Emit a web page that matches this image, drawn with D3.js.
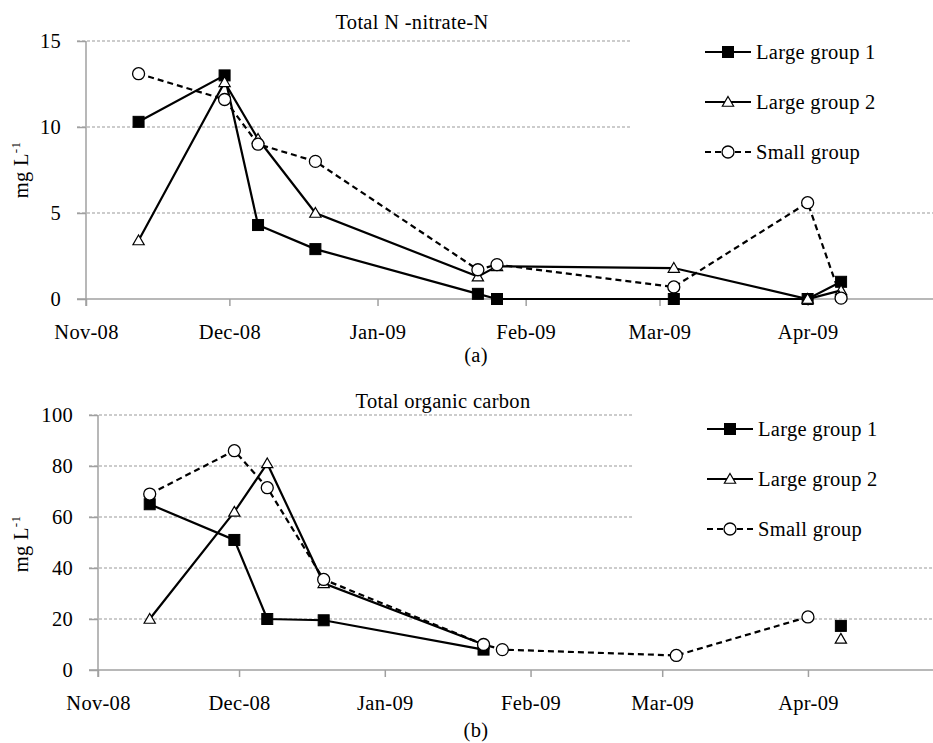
<!DOCTYPE html>
<html>
<head>
<meta charset="utf-8">
<script src="https://cdn.jsdelivr.net/npm/d3@7"></script>
<style>
  html, body { margin: 0; padding: 0; background: #fff; }
  svg { display: block; }
  text { font-family: "Liberation Serif", "Times New Roman", serif; fill: #000; letter-spacing: 0.3px; }
</style>
</head>
<body>
<svg id="chart" width="933" height="743"></svg>
<script>
// ---------- DATA ----------
const sampleDates = ["2008-11-12", "2008-11-30", "2008-12-07", "2008-12-19", "2009-01-22", "2009-01-26", "2009-03-04", "2009-04-01", "2009-04-08"];
const monthTicks = ["2008-11-01", "2008-12-01", "2009-01-01", "2009-02-01", "2009-03-01", "2009-04-01"];
const seriesNames = ["Large group 1", "Large group 2", "Small group"];

// (a) Total N - nitrate-N, mg L-1
const nLarge1 = [10.3, 13.0, 4.3, 2.9, 0.3, 0, 0, 0, 1.0];
const nLarge2 = [3.4, 12.6, 9.3, 5.0, 1.3, 1.9, 1.8, 0, 0.5];
const nSmall  = [13.1, 11.6, 9.0, 8.0, 1.7, 2.0, 0.7, 5.6, 0.05];
const nTicks  = [0, 5, 10, 15];

// (b) Total organic carbon, mg L-1
const cLarge1 = [65, 51, 20, 19.5, 8, null, null, null, 17.3];
const cLarge2 = [20, 62, 81, 34, 10, null, null, null, 12.2];
const cSmall  = [69, 86, 71.5, 35.5, 10, 8, 5.7, 20.8, null];
const cTicks  = [0, 20, 40, 60, 80, 100];

// ---------- DRAW ----------
const parse = d3.timeParse("%Y-%m-%d");
const fmt = d3.timeFormat("%b-%y");
const svg = d3.select("#chart");
const FS = 20.5;

function panel(cfg) {
  const g = svg.append("g");
  const x = d3.scaleTime()
    .domain([parse("2008-11-01"), parse("2009-05-01")])
    .range([cfg.left, cfg.right]);
  const y = d3.scaleLinear().domain([0, cfg.max]).range([cfg.bottom, cfg.top]);

  // gridlines
  g.selectAll(".grid").data(cfg.ticks.filter(t => t > 0)).enter().append("line")
    .attr("x1", cfg.left - 9).attr("x2", cfg.right)
    .attr("y1", d => y(d)).attr("y2", d => y(d))
    .attr("stroke", "#9a9a9a").attr("stroke-width", 1.2)
    .attr("stroke-dasharray", "3,2");

  // y axis
  const ya = d3.axisLeft(y).tickValues(cfg.ticks).tickSize(9).tickPadding(16).tickFormat(d3.format("d"));
  const yg = g.append("g").attr("transform", `translate(${cfg.left},0)`).call(ya);
  yg.select(".domain").remove();
  yg.selectAll(".tick line").attr("stroke", "#a0a0a0").attr("stroke-width", 1.5);
  yg.selectAll(".tick text").attr("font-size", FS).attr("font-family", "Liberation Serif");
  g.append("line").attr("x1", cfg.left).attr("x2", cfg.left)
    .attr("y1", cfg.top).attr("y2", cfg.bottom + 7)
    .attr("stroke", "#a0a0a0").attr("stroke-width", 1.5);

  // x axis
  const xa = d3.axisBottom(x).tickValues(monthTicks.map(parse)).tickFormat(fmt).tickSize(7).tickPadding(18);
  const xg = g.append("g").attr("transform", `translate(0,${cfg.bottom})`).call(xa);
  xg.select(".domain").remove();
  xg.selectAll(".tick line").attr("stroke", "#a0a0a0").attr("stroke-width", 1.5);
  xg.selectAll(".tick text").attr("font-size", FS).attr("font-family", "Liberation Serif");
  g.append("line").attr("x1", cfg.left - 9).attr("x2", cfg.right)
    .attr("y1", cfg.bottom).attr("y2", cfg.bottom)
    .attr("stroke", "#a0a0a0").attr("stroke-width", 1.5);

  // legend background (covers gridlines)
  g.append("rect").attr("x", cfg.legX - 73).attr("y", cfg.legY - 25)
    .attr("width", 933 - (cfg.legX - 73)).attr("height", 145).attr("fill", "#fff");

  const styles = [
    { dash: null, sym: "square" },
    { dash: null, sym: "triangle" },
    { dash: "6,4", sym: "circle" }
  ];

  function marker(sel, sym) {
    if (sym === "square") {
      sel.append("rect").attr("x", -5.5).attr("y", -5.5).attr("width", 11).attr("height", 11)
        .attr("fill", "#000").attr("stroke", "#000").attr("stroke-width", 1);
    } else if (sym === "triangle") {
      sel.append("path").attr("d", d3.symbol().type(d3.symbolTriangle).size(55)())
        .attr("transform", "translate(0,1)")
        .attr("fill", "#fff").attr("stroke", "#000").attr("stroke-width", 1.2);
    } else {
      sel.append("circle").attr("r", 6).attr("fill", "#fff").attr("stroke", "#000").attr("stroke-width", 1.3);
    }
  }

  const dates = sampleDates.map(parse);
  cfg.series.forEach((vals, i) => {
    const pts = dates.map((d, j) => ({ d, v: vals[j] }));
    const line = d3.line().defined(p => p.v !== null).x(p => x(p.d)).y(p => y(p.v));
    g.append("path").attr("d", line(pts)).attr("fill", "none")
      .attr("stroke", "#000").attr("stroke-width", 2.2)
      .attr("stroke-dasharray", styles[i].dash);
    pts.filter(p => p.v !== null).forEach(p => {
      const m = g.append("g").attr("transform", `translate(${x(p.d)},${y(p.v)})`);
      marker(m, styles[i].sym);
    });
  });

  // legend
  seriesNames.forEach((name, i) => {
    const ly = cfg.legY + i * 50;
    g.append("line").attr("x1", cfg.legX).attr("x2", cfg.legX + 46)
      .attr("y1", ly).attr("y2", ly).attr("stroke", "#000").attr("stroke-width", 2.2)
      .attr("stroke-dasharray", styles[i].dash);
    const m = g.append("g").attr("transform", `translate(${cfg.legX + 23},${ly})`);
    marker(m, styles[i].sym);
    g.append("text").attr("x", cfg.legX + 51).attr("y", ly + 7)
      .attr("font-size", FS).text(name);
  });

  // title
  g.append("text").attr("x", cfg.titleX).attr("y", cfg.titleY)
    .attr("text-anchor", "middle").attr("font-size", FS).text(cfg.title);

  // y label
  const yl = g.append("text").attr("transform", `translate(${cfg.ylX},${cfg.ylY}) rotate(-90)`)
    .attr("text-anchor", "middle").attr("font-size", FS);
  yl.append("tspan").text("mg L");
  yl.append("tspan").attr("dy", -8).attr("font-size", 13).text("-1");

  // panel label
  g.append("text").attr("x", 476).attr("y", cfg.labY).attr("text-anchor", "middle")
    .attr("font-size", FS).text(cfg.label);
}

panel({
  left: 86, right: 951, top: 41, bottom: 299, max: 15, ticks: nTicks,
  series: [nLarge1, nLarge2, nSmall],
  legX: 705, legY: 52, title: "Total N -nitrate-N", titleX: 412, titleY: 29,
  ylX: 28, ylY: 170, label: "(a)", labY: 362
});

panel({
  left: 98, right: 949, top: 415, bottom: 670, max: 100, ticks: cTicks,
  series: [cLarge1, cLarge2, cSmall],
  legX: 707, legY: 429, title: "Total organic carbon", titleX: 443, titleY: 408,
  ylX: 28, ylY: 544, label: "(b)", labY: 737
});
</script>
</body>
</html>
